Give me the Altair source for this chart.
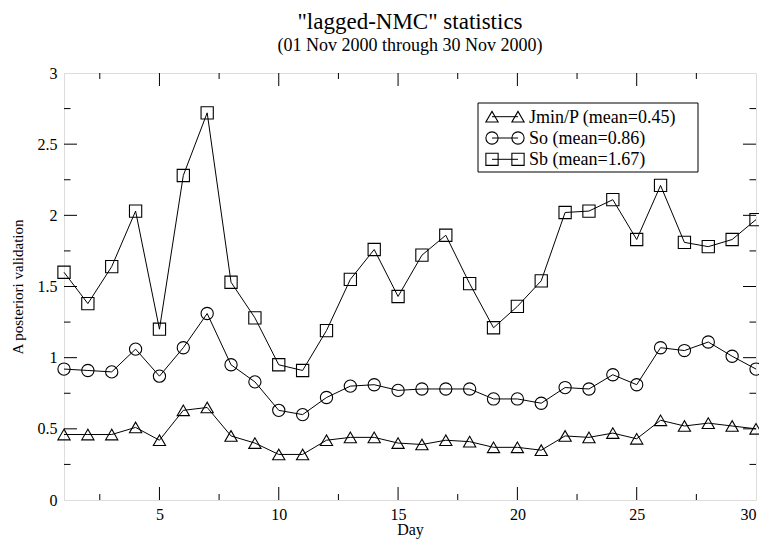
import altair as alt
import pandas as pd

days = list(range(1, 31))
jmin = [0.46, 0.46, 0.46, 0.51, 0.42, 0.63, 0.65, 0.45, 0.40, 0.32, 0.32, 0.42, 0.44, 0.44, 0.40,
        0.39, 0.42, 0.41, 0.37, 0.37, 0.35, 0.45, 0.44, 0.47, 0.43, 0.56, 0.52, 0.54, 0.52, 0.50]
so = [0.92, 0.91, 0.90, 1.06, 0.87, 1.07, 1.31, 0.95, 0.83, 0.63, 0.60, 0.72, 0.80, 0.81, 0.77,
      0.78, 0.78, 0.78, 0.71, 0.71, 0.68, 0.79, 0.78, 0.88, 0.81, 1.07, 1.05, 1.11, 1.01, 0.92]
sb = [1.60, 1.38, 1.64, 2.03, 1.20, 2.28, 2.72, 1.53, 1.28, 0.95, 0.91, 1.19, 1.55, 1.76, 1.43,
      1.72, 1.86, 1.52, 1.21, 1.36, 1.54, 2.02, 2.03, 2.11, 1.83, 2.21, 1.81, 1.78, 1.83, 1.97]

series_names = ["Jmin/P", "So", "Sb"]
legend_labels = ["Jmin/P (mean=0.45)", "So (mean=0.86)", "Sb (mean=1.67)"]
shapes = ["triangle-up", "circle", "square"]

x_major = [5, 10, 15, 20, 25]
x_minor = [2.5, 7.5, 12.5, 17.5, 22.5, 27.5]
y_major = [0.5, 1.0, 1.5, 2.0, 2.5]
y_minor = [0.25, 0.75, 1.25, 1.75, 2.25, 2.75]

W, H = 692, 427
FONT = "Liberation Serif"

rows = []
for name, vals in zip(series_names, [jmin, so, sb]):
    for d, v in zip(days, vals):
        rows.append({"day": d, "series": name, "value": v})
df = pd.DataFrame(rows)

xscale = alt.Scale(domain=[1, 30], nice=False, zero=False)
yscale = alt.Scale(domain=[0, 3], nice=False, zero=False)

base = alt.Chart(df)
lines = base.mark_line(color="black", strokeWidth=1).encode(
    x=alt.X("day:Q", scale=xscale,
            axis=alt.Axis(title="Day", values=[5, 10, 15, 20, 25, 30], ticks=False, domain=False,
                          grid=False, labelFont=FONT, labelFontSize=16, labelColor="black",
                          labelPadding=6, titleFont=FONT, titleFontSize=16, titleFontWeight="normal",
                          titleColor="black", titlePadding=-1)),
    y=alt.Y("value:Q", scale=yscale,
            axis=alt.Axis(title="A posteriori validation", values=[0, 0.5, 1, 1.5, 2, 2.5, 3],
                          format="~g", ticks=False, domain=False, grid=False, labelFont=FONT,
                          labelFontSize=16, labelColor="black", labelPadding=7, titleFont=FONT,
                          titleFontSize=15, titleFontWeight="normal", titleColor="black",
                          titlePadding=12)),
    detail="series:N",
)
points = base.mark_point(filled=False, color="black", strokeWidth=1.1, size=150, opacity=1).encode(
    x=alt.X("day:Q", scale=xscale),
    y=alt.Y("value:Q", scale=yscale),
    shape=alt.Shape("series:N", scale=alt.Scale(domain=series_names, range=shapes), legend=None),
)

def yticks(vals, length):
    d = pd.DataFrame({"v": vals})
    left = alt.Chart(d).mark_rule(color="black", strokeWidth=1).encode(
        y=alt.Y("v:Q", scale=yscale), x=alt.value(0), x2=alt.value(length))
    right = alt.Chart(d).mark_rule(color="black", strokeWidth=1).encode(
        y=alt.Y("v:Q", scale=yscale), x=alt.value(W), x2=alt.value(W - length))
    return [left, right]

def xticks(vals, length):
    d = pd.DataFrame({"v": vals})
    bottom = alt.Chart(d).mark_rule(color="black", strokeWidth=1).encode(
        x=alt.X("v:Q", scale=xscale), y=alt.value(H), y2=alt.value(H - length))
    top = alt.Chart(d).mark_rule(color="black", strokeWidth=1).encode(
        x=alt.X("v:Q", scale=xscale), y=alt.value(0), y2=alt.value(length))
    return [bottom, top]

tick_layers = yticks(y_major, 13) + yticks(y_minor, 6.5) + xticks(x_major, 13) + xticks(x_minor, 6)

# legend box
box_df = pd.DataFrame({"k": [0]})
legend_layers = [
    alt.Chart(box_df).mark_rect(fill="white", stroke="black", strokeWidth=1).encode(
        x=alt.value(414), x2=alt.value(634), y=alt.value(30), y2=alt.value(99))
]
for i, (lab, shp) in enumerate(zip(legend_labels, shapes)):
    ld = pd.DataFrame({"label": [lab]})
    yy = 43.7 + 21.3 * i
    legend_layers.append(alt.Chart(ld).mark_rule(color="black", strokeWidth=1).encode(
        x=alt.value(428), x2=alt.value(454), y=alt.value(yy)))
    for xx in (428, 454):
        legend_layers.append(alt.Chart(ld).mark_point(shape=shp, filled=False, color="black",
                                                      strokeWidth=1.1, size=150, opacity=1).encode(
            x=alt.value(xx), y=alt.value(yy)))
    legend_layers.append(alt.Chart(ld).mark_text(font=FONT, fontSize=18, align="left",
                                                 baseline="middle", color="black").encode(
        x=alt.value(465), y=alt.value(yy + 1), text="label:N"))

chart = alt.layer(lines, points, *tick_layers, *legend_layers).properties(
    width=W, height=H,
    title=alt.TitleParams(text='"lagged-NMC" statistics',
                          subtitle="(01 Nov 2000 through 30 Nov 2000)",
                          font=FONT, fontSize=23, fontWeight="normal", color="black",
                          subtitleFont=FONT, subtitleFontSize=18, subtitleColor="black",
                          subtitlePadding=3, anchor="middle", offset=10),
    autosize=alt.AutoSizeParams(type="none"),
    padding={"left": 56, "top": 65, "right": 3, "bottom": 40},
).configure_view(stroke="black", strokeWidth=1.2).configure(background="white", font=FONT)

chart.save("out.html", embed_options={"renderer": "svg", "actions": False})
